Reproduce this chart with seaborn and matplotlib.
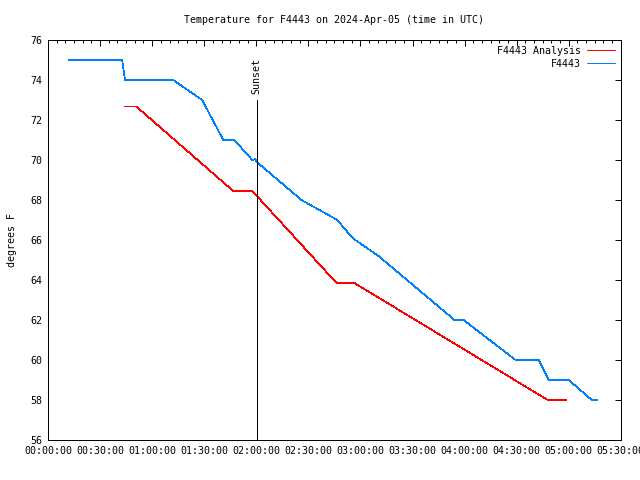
import pandas as pd
import matplotlib
matplotlib.use("Agg")
import matplotlib.pyplot as plt
from matplotlib.ticker import FuncFormatter, MultipleLocator
import seaborn as sns

# -----------------------------
# Data (minutes after 00:00 UTC, degrees F)
# -----------------------------

obs_minutes = [12.1, 42.7, 44.4, 72.1, 88.8, 101.0, 107.3, 117.7, 119.4, 120.3,
               146.0, 166.7, 175.4, 190.4, 234.2, 239.4, 269.4, 282.7, 288.5,
               300.0, 313.3, 316.2]
obs_temp = [75.0, 75.0, 74.0, 74.0, 73.0, 71.0, 71.0, 70.0, 70.05, 69.9,
            68.0, 67.0, 66.1, 65.2, 62.0, 62.0, 60.0, 60.0, 59.0,
            59.0, 58.0, 58.0]

ana_minutes = [44.4, 50.8, 106.7, 117.7, 166.2, 176.5, 287.9, 298.3]
ana_temp = [72.68, 72.68, 68.45, 68.45, 63.85, 63.85, 58.0, 58.0]

sunset_minute = 120.3
sunset_top = 73.0

series_names = ["F4443 Analysis", "F4443"]
series_colors = ["#ff0000", "#0080ff"]

df = pd.concat([
    pd.DataFrame({"minutes": ana_minutes, "temp": ana_temp, "series": series_names[0]}),
    pd.DataFrame({"minutes": obs_minutes, "temp": obs_temp, "series": series_names[1]}),
], ignore_index=True)

# -----------------------------
# Plot
# -----------------------------

sns.set_style("white")
plt.rcParams["font.family"] = ["DejaVu Sans Mono"]
plt.rcParams["font.size"] = 7.2
plt.rcParams["text.color"] = "black"

fig = plt.figure(figsize=(6.4, 4.8), dpi=100)
ax = fig.add_axes([0.075, 0.0833, 0.895, 0.8334])

sns.lineplot(
    data=df, x="minutes", y="temp", hue="series",
    hue_order=series_names, palette=dict(zip(series_names, series_colors)),
    estimator=None, sort=False, ax=ax
)
# thin 1px lines like the reference
for line in ax.lines:
    line.set_linewidth(0.5)
    line.set_antialiased(False)

ax.plot([sunset_minute, sunset_minute], [56, sunset_top], color="black", linewidth=0.72, antialiased=False)
ax.text(sunset_minute, sunset_top + 0.3, "Sunset", rotation=90, ha="center", va="bottom",
        fontsize=7.2, color="black")

ax.set_xlim(0, 330)
ax.set_ylim(56, 76)
ax.xaxis.set_major_locator(MultipleLocator(30))
ax.xaxis.set_minor_locator(MultipleLocator(5))
ax.yaxis.set_major_locator(MultipleLocator(2))
ax.xaxis.set_major_formatter(FuncFormatter(lambda v, p: f"{int(v) // 60:02d}:{int(v) % 60:02d}:00"))

ax.tick_params(which="both", direction="in", top=True, right=True, colors="black",
               labelcolor="black", labelsize=7.2, width=0.72)
ax.tick_params(which="major", length=4.5, pad=4)
ax.tick_params(which="minor", length=2.2)
for s in ax.spines.values():
    s.set_color("black")
    s.set_linewidth(0.72)

ax.set_title("Temperature for F4443 on 2024-Apr-05 (time in UTC)", fontsize=7.2, pad=12, color="black")
ax.set_xlabel("")
ax.set_ylabel("degrees F", fontsize=7.2, labelpad=10, color="black")

handles, labels = ax.get_legend_handles_labels()
leg = ax.legend(handles, labels, loc="upper right", frameon=False, markerfirst=False,
                handlelength=2.8, fontsize=7.2, borderaxespad=0.2, labelspacing=0.3,
                handletextpad=0.6)
for t in leg.get_texts():
    t.set_color("black")
for h in leg.get_lines():
    h.set_linewidth(0.72)

fig.savefig("out.png", dpi=100)
